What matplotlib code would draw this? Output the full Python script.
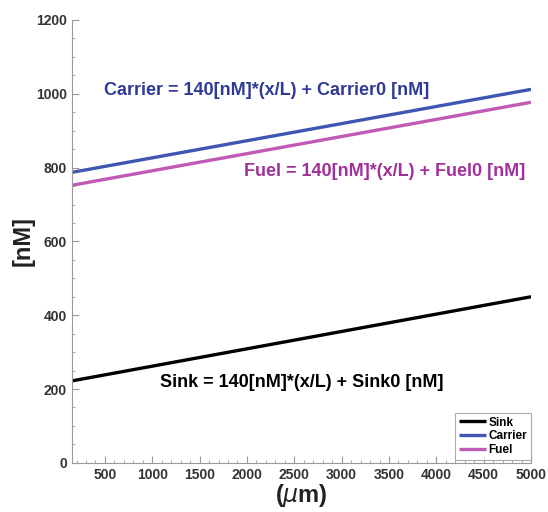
import matplotlib
matplotlib.use("Agg")
import matplotlib.pyplot as plt
import numpy as np
from matplotlib.ticker import MultipleLocator

plt.rcParams['font.family'] = ['Liberation Sans', 'DejaVu Sans']

x_pos = [150, 5000]
sink = [222, 450]
carrier = [787, 1012]
fuel = [752, 977]
series_names = ["Sink", "Carrier", "Fuel"]
colors = ["#000000", "#3f57b0", "#c05ab5"]

fig = plt.figure(figsize=(5.48, 5.12), dpi=100)
ax = fig.add_axes([0.131, 0.096, 0.838, 0.865])

for vals, name, c in zip([sink, carrier, fuel], series_names, colors):
    ax.plot(x_pos, vals, color=c, lw=2.4, label=name, solid_capstyle='butt')

ax.set_xlim(150, 5000)
ax.set_ylim(0, 1200)
ax.xaxis.set_major_locator(MultipleLocator(500))
ax.xaxis.set_minor_locator(MultipleLocator(100))
ax.yaxis.set_major_locator(MultipleLocator(200))
ax.yaxis.set_minor_locator(MultipleLocator(50))
ax.tick_params(which='both', direction='in', color='#999999', labelcolor='#333333')
ax.tick_params(which='major', length=5, width=0.8, labelsize=10)
ax.tick_params(which='minor', length=2.5, width=0.6)
for lab in ax.get_xticklabels() + ax.get_yticklabels():
    lab.set_fontweight('bold')
for s in ['top', 'right']:
    ax.spines[s].set_visible(False)
for s in ['left', 'bottom']:
    ax.spines[s].set_color('#999999')
    ax.spines[s].set_linewidth(0.8)

ax.set_ylabel("[nM]", fontsize=17, fontweight='bold', color='#222222', labelpad=1)
ax.set_xlabel(r"($\mu$m)", fontsize=17, fontweight='bold', color='#222222', labelpad=0)

ax.text(2210, 1010, "Carrier = 140[nM]*(x/L) + Carrier0 [nM]", color='#2e3a96',
        fontsize=13, fontweight='bold', ha='center', va='center')
ax.text(3450, 789, "Fuel = 140[nM]*(x/L) + Fuel0 [nM]", color='#a0309a',
        fontsize=13, fontweight='bold', ha='center', va='center')
ax.text(2580, 217, "Sink = 140[nM]*(x/L) + Sink0 [nM]", color='#000000',
        fontsize=13, fontweight='bold', ha='center', va='center')

leg = ax.legend(loc='lower right', fontsize=8.5, frameon=True, fancybox=False,
                handlelength=2.3, handletextpad=0.2, borderpad=0.3, labelspacing=0.15,
                bbox_to_anchor=(1.012, -0.006))
leg.get_frame().set_edgecolor('#999999')
leg.get_frame().set_linewidth(0.8)
for t in leg.get_texts():
    t.set_fontweight('bold')

fig.savefig("out.png", dpi=100)
